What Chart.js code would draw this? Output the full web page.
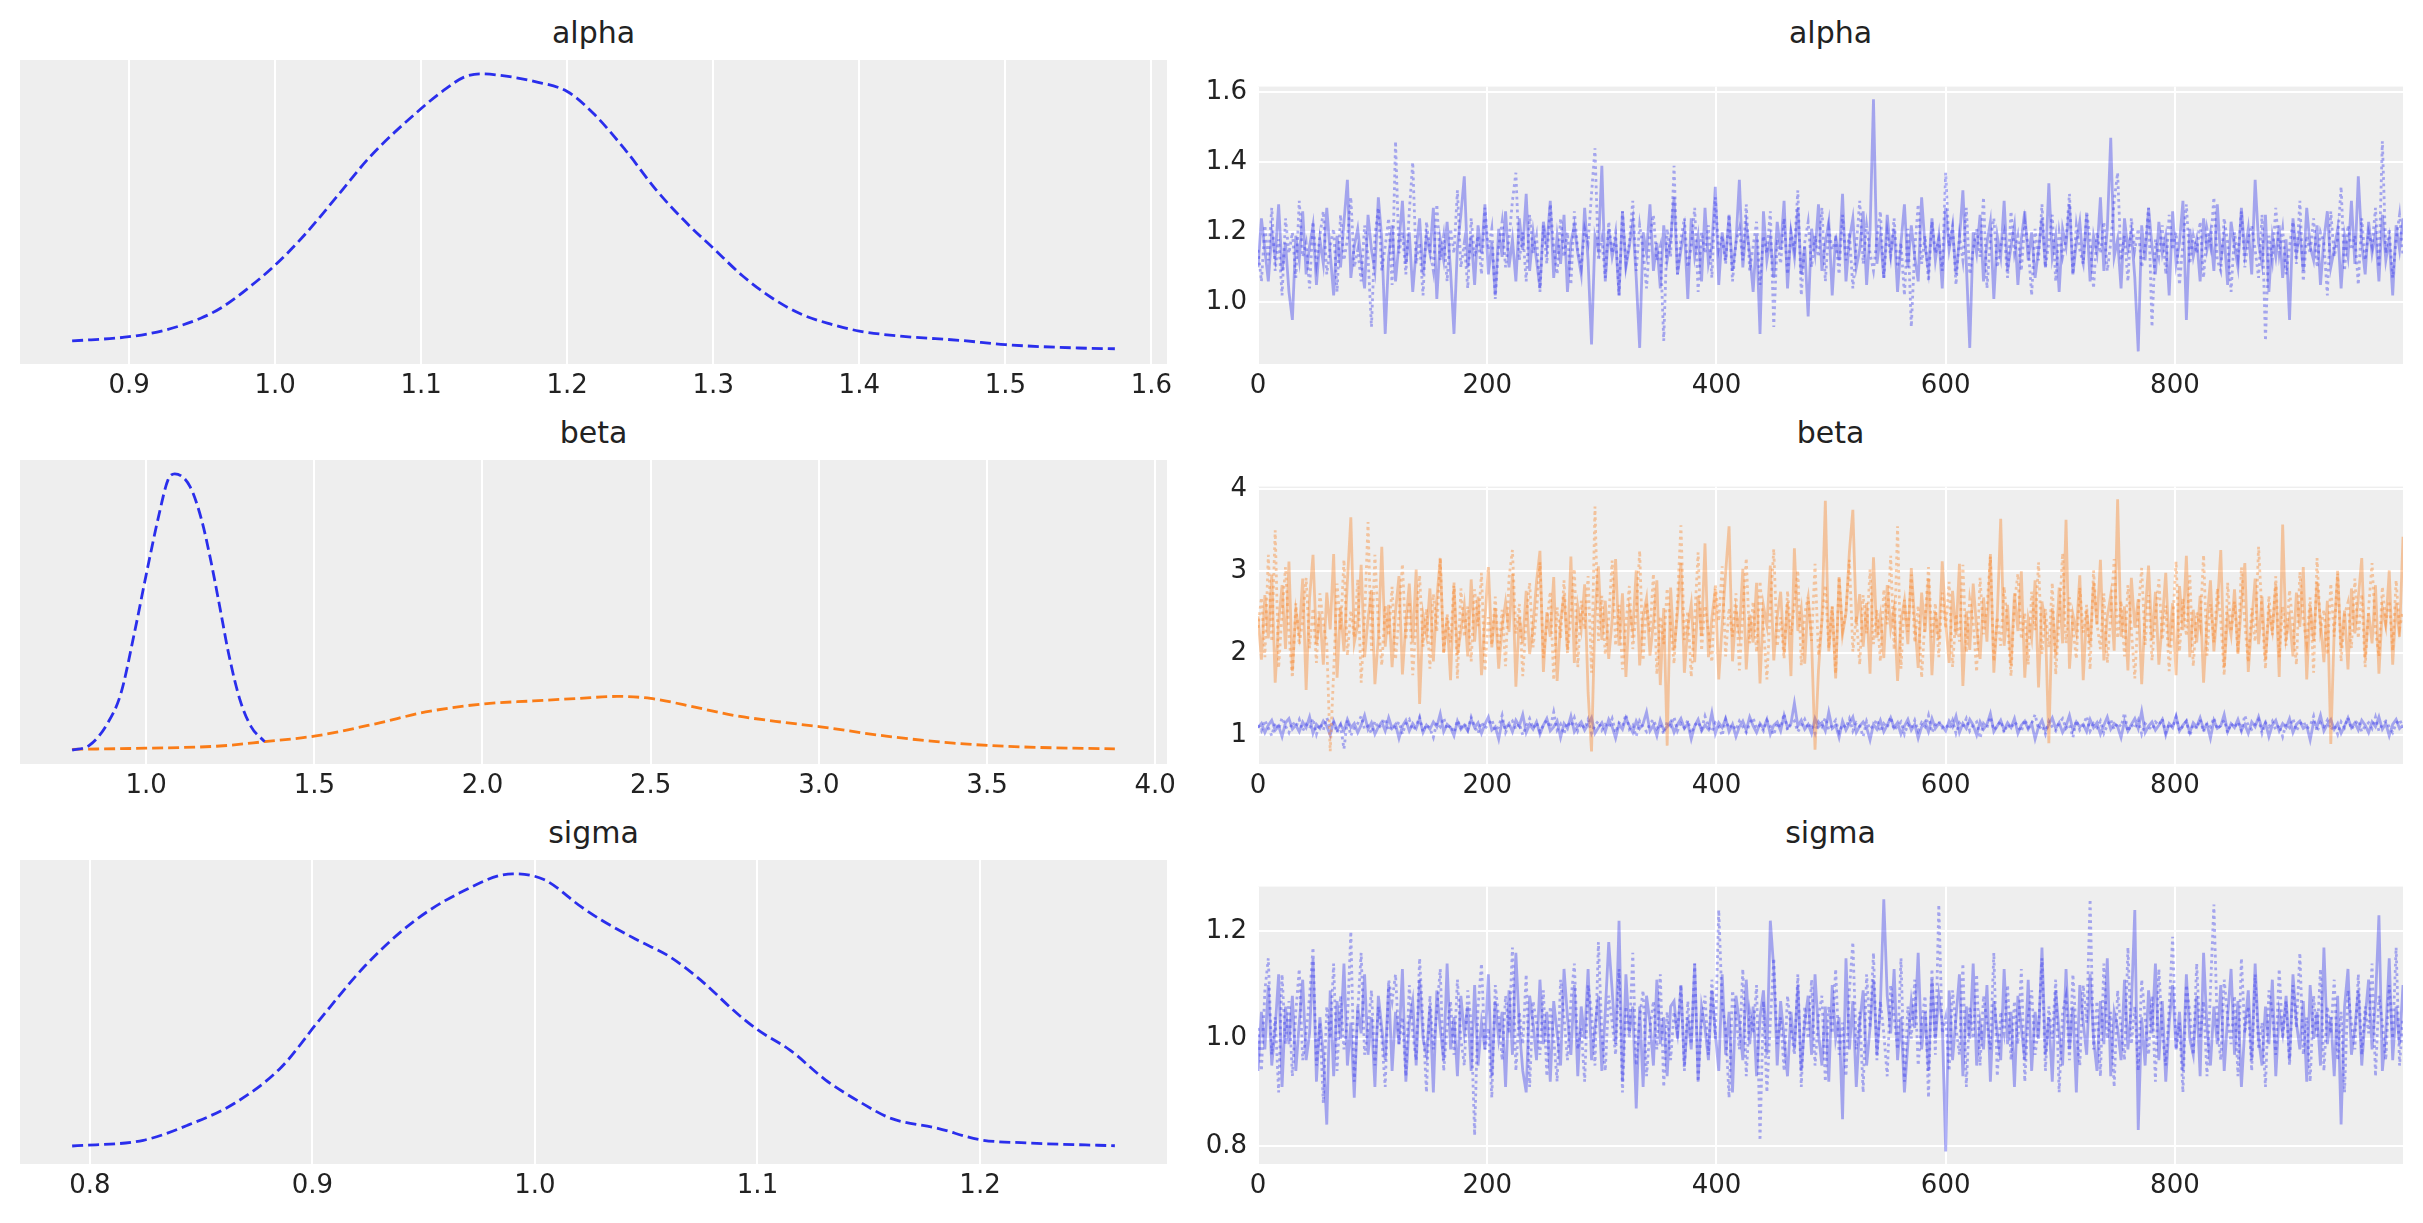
<!DOCTYPE html>
<html>
<head>
<meta charset="utf-8">
<script src="https://cdn.jsdelivr.net/npm/chart.js@4.4.1/dist/chart.umd.min.js"></script>
<style>
  body { margin: 0; background: #fff; width: 2423px; height: 1223px; position: relative; overflow: hidden; font-family: "DejaVu Sans", sans-serif; }
  .box { position: absolute; }
  .ttl { position: absolute; font-size: 30px; line-height: 30px; color: #222; text-align: center; white-space: nowrap; }
</style>
</head>
<body>
<script>
// ---- data: posterior traces (every 3rd draw), 2 chains each ----
const DRAW_STEP = 3;
const traceTicksX = [0, 200, 400, 600, 800];

const alphaChain0 = [
  1.10,1.24,1.15,1.06,1.20,1.13,1.28,1.09,1.17,1.03,0.95,1.19,1.12,1.26,1.08,1.16,1.22,1.05,1.18,1.11,
  1.27,1.14,1.02,1.19,1.10,1.23,1.35,1.07,1.16,1.21,1.12,1.04,1.25,1.15,1.09,1.30,1.18,0.91,1.13,1.22,
  1.06,1.17,1.29,1.11,1.20,1.03,1.15,1.24,1.08,1.19,1.14,1.27,1.01,1.18,1.12,1.23,1.09,0.91,1.16,1.25,
  1.36,1.10,1.19,1.05,1.22,1.14,1.28,1.08,1.17,1.02,1.21,1.13,1.26,1.10,1.18,1.06,1.24,1.15,1.31,1.09,
  1.20,1.12,1.04,1.23,1.16,1.29,1.07,1.19,1.11,1.25,1.03,1.17,1.22,1.14,1.08,1.27,1.12,0.88,1.19,1.15,
  1.39,1.06,1.21,1.13,1.18,1.02,1.26,1.10,1.16,1.23,1.07,0.87,1.20,1.14,1.28,1.09,1.17,1.04,1.22,1.12,
  1.18,1.30,1.08,1.15,1.21,1.01,1.24,1.13,1.19,1.06,1.27,1.11,1.16,1.33,1.05,1.20,1.12,1.25,1.09,1.17,
  1.35,1.10,1.22,1.14,1.03,1.19,0.91,1.26,1.12,1.18,1.07,1.23,1.15,1.29,1.04,1.20,1.13,1.27,1.08,1.16,
  0.96,1.21,1.14,1.28,1.09,1.17,1.23,1.02,1.19,1.12,1.31,1.06,1.18,1.24,1.10,1.15,1.26,1.05,1.20,1.58,
  1.11,1.19,1.07,1.25,1.14,1.21,1.03,1.17,1.28,1.10,1.22,1.13,1.06,1.30,1.16,1.09,1.24,1.12,1.19,1.04,
  1.27,1.15,1.21,1.08,1.18,1.32,1.11,0.87,1.20,1.14,1.25,1.06,1.17,1.23,1.01,1.19,1.13,1.29,1.09,1.16,
  1.22,1.05,1.18,1.26,1.12,1.20,1.07,1.15,1.24,1.10,1.34,1.13,1.19,1.03,1.21,1.16,1.28,1.08,1.17,1.23,
  1.11,1.25,1.06,1.19,1.14,1.30,1.09,1.21,1.47,1.13,1.18,1.04,1.24,1.15,1.20,1.07,0.86,1.22,1.12,1.27,
  1.16,1.08,1.23,1.14,1.19,1.02,1.26,1.11,1.17,1.29,0.95,1.21,1.13,1.18,1.06,1.24,1.15,1.20,1.09,1.28,
  1.12,1.19,1.05,1.23,1.16,1.10,1.27,1.14,1.21,1.08,1.35,1.17,1.11,1.25,1.03,1.19,1.13,1.22,1.07,1.18,
  0.95,1.24,1.14,1.20,1.09,1.27,1.16,1.12,1.22,1.05,1.18,1.26,1.10,1.15,1.21,1.04,1.19,1.13,1.29,1.11,
  1.36,1.17,1.08,1.23,1.14,1.20,1.06,1.25,1.12,1.18,1.02,1.22,1.15,1.24
];
const alphaChain1 = [
  1.15,1.06,1.22,1.12,1.27,1.09,1.18,1.02,1.24,1.14,1.20,1.07,1.29,1.13,1.17,1.04,1.23,1.11,1.19,1.26,
  1.08,1.16,1.21,1.03,1.25,1.12,1.18,1.30,1.10,1.15,1.06,1.22,1.13,0.93,1.19,1.27,1.09,1.16,1.24,1.05,
  1.46,1.14,1.20,1.08,1.26,1.40,1.11,1.17,1.02,1.23,1.15,1.09,1.28,1.12,1.19,1.06,1.21,1.14,1.32,1.10,
  1.17,1.04,1.24,1.13,1.19,1.08,1.27,1.15,1.21,1.01,1.16,1.23,1.10,1.18,1.29,1.37,1.12,1.20,1.06,1.25,
  1.14,1.19,1.03,1.22,1.11,1.28,1.16,1.08,1.24,1.13,1.20,1.05,1.26,1.15,1.10,1.21,1.17,1.31,1.44,1.12,
  1.18,1.07,1.23,1.14,1.20,1.02,1.26,1.11,1.17,1.29,1.09,1.22,1.15,1.04,1.19,1.25,1.12,1.16,0.89,1.21,
  1.13,1.39,1.08,1.18,1.24,1.10,1.16,1.27,1.03,1.20,1.14,1.22,1.07,1.30,1.15,1.19,1.11,1.25,1.06,1.17,
  1.21,1.12,1.28,1.09,1.16,1.23,1.05,1.19,1.14,1.26,0.93,1.18,1.11,1.24,1.08,1.20,1.15,1.32,1.02,1.17,
  1.23,1.10,1.19,1.13,1.27,1.06,1.21,1.15,1.18,1.08,1.25,1.12,1.20,1.04,1.16,1.29,1.11,1.22,1.14,1.09,
  1.18,1.26,1.07,1.20,1.13,1.24,1.10,1.17,1.02,1.21,0.93,1.15,1.28,1.11,1.19,1.06,1.23,1.14,1.18,1.09,
  1.37,1.16,1.22,1.05,1.19,1.12,1.27,1.08,1.15,1.21,1.13,1.30,1.04,1.18,1.24,1.10,1.16,1.20,1.07,1.26,
  1.14,1.19,1.09,1.23,1.16,1.02,1.21,1.12,1.28,1.10,1.17,1.25,1.06,1.20,1.13,1.18,1.31,1.08,1.22,1.15,
  1.11,1.26,1.18,1.04,1.20,1.14,1.23,1.09,1.17,1.29,1.37,1.12,1.19,1.06,1.24,1.15,1.21,1.10,1.16,1.27,
  0.93,1.18,1.13,1.22,1.08,1.25,1.15,1.20,1.05,1.17,1.28,1.11,1.19,1.14,1.23,1.07,1.21,1.16,1.30,1.12,
  1.09,1.24,1.17,1.03,1.20,1.13,1.26,1.10,1.18,1.22,1.15,1.07,1.25,0.89,1.19,1.12,1.27,1.14,1.21,1.08,
  1.16,1.23,1.11,1.29,1.06,1.19,1.14,1.24,1.10,1.20,1.17,1.02,1.26,1.13,1.18,1.33,1.09,1.22,1.15,1.19,
  1.05,1.24,1.12,1.20,1.16,1.27,1.10,1.46,1.14,1.21,1.07,1.18,1.25,1.13
];

const beta0Chain0 = [
  1.09,1.14,1.03,1.12,1.18,1.06,1.11,0.98,1.15,1.20,1.07,1.12,1.04,1.16,1.09,1.22,1.02,1.13,1.08,1.17,
  1.11,1.00,1.17,1.06,1.13,1.05,1.19,1.09,1.14,1.03,1.12,1.24,1.07,1.15,1.01,1.10,1.16,1.05,1.21,1.08,
  1.13,0.96,1.11,1.18,1.05,1.14,1.08,1.20,1.03,1.12,1.07,1.16,1.10,1.26,1.04,1.13,1.09,0.99,1.17,1.07,
  1.12,1.05,1.19,1.09,1.15,1.02,1.13,1.22,1.06,1.10,0.95,1.17,1.08,1.14,1.04,1.18,1.11,1.25,1.03,1.13,
  1.07,1.16,1.01,1.12,1.20,1.05,1.10,1.17,0.97,1.14,1.08,1.23,1.04,1.11,1.16,1.06,1.13,1.21,1.02,1.09,
  1.15,1.04,1.19,1.10,0.96,1.13,1.07,1.21,1.11,1.03,1.17,1.08,1.14,1.28,1.05,1.12,0.99,1.18,1.06,1.10,
  1.16,1.03,1.13,1.20,1.08,1.14,0.95,1.11,1.19,1.05,1.12,1.07,1.27,1.02,1.15,1.09,1.20,1.04,1.13,0.98,
  1.10,1.17,1.06,1.22,1.11,1.03,1.14,1.08,1.19,1.01,1.12,1.16,1.05,1.24,1.09,1.14,1.39,1.11,1.18,1.07,
  1.13,1.02,1.20,1.10,1.15,1.05,1.28,1.08,1.12,0.97,1.17,1.06,1.14,1.22,1.03,1.11,1.16,1.09,0.94,1.13,
  1.07,1.18,1.04,1.12,1.21,1.09,1.15,1.01,1.11,1.19,1.06,1.13,0.96,1.10,1.16,1.04,1.20,1.08,1.14,1.11,
  1.05,1.17,1.10,1.23,1.03,1.14,1.08,1.19,1.12,1.00,1.16,1.07,1.13,1.26,1.04,1.11,1.18,1.06,1.15,1.09,
  1.20,1.02,1.12,1.17,1.07,1.14,0.95,1.10,1.18,1.05,1.13,1.21,1.08,1.15,1.03,1.11,1.24,1.06,1.16,1.10,
  1.13,1.04,1.19,1.09,1.15,1.01,1.12,1.22,1.07,1.14,1.10,0.97,1.17,1.05,1.13,1.20,1.08,1.29,1.03,1.11,
  1.16,1.06,1.12,1.19,1.00,1.14,1.09,1.23,1.05,1.12,1.17,1.03,1.15,1.10,1.21,1.07,1.13,0.96,1.18,1.08,
  1.11,1.25,1.04,1.14,1.09,1.19,1.06,1.13,1.02,1.16,1.10,1.22,1.07,1.15,0.98,1.12,1.18,1.05,1.14,1.09,
  1.20,1.03,1.13,1.17,1.08,1.11,0.94,1.16,1.10,1.24,1.05,1.13,1.19,1.07,1.14,1.02,1.11,1.21,1.09,1.15,
  1.06,1.18,1.12,1.03,1.16,1.10,1.22,1.07,1.14,0.99,1.13,1.19,1.08,1.12
];
const beta0Chain1 = [
  1.12,1.05,1.18,1.09,0.99,1.15,1.07,1.21,1.11,1.03,1.16,1.10,1.19,1.05,1.13,1.08,1.20,1.01,1.14,1.06,
  1.21,1.10,1.15,1.03,1.12,0.83,1.18,0.99,1.09,1.14,1.23,1.07,1.11,1.02,1.17,1.08,1.13,1.20,1.05,1.12,
  1.09,1.16,1.01,1.14,1.19,1.06,1.11,1.22,1.04,1.13,1.08,0.97,1.15,1.10,1.21,1.07,1.12,1.03,1.18,1.09,
  1.14,1.06,1.22,1.11,1.02,1.16,1.08,1.13,1.19,1.05,1.10,1.24,1.03,1.12,1.17,1.07,1.14,1.00,1.11,1.20,
  1.08,1.15,1.04,1.12,1.18,1.09,1.28,1.06,1.13,1.01,1.16,1.10,1.21,1.05,1.14,1.08,1.19,1.02,1.12,1.17,
  1.06,1.13,1.09,1.20,1.03,1.15,1.11,1.25,1.07,1.12,0.98,1.17,1.10,1.04,1.14,1.19,1.08,1.13,1.01,1.16,
  1.11,1.22,1.05,1.14,1.09,1.18,1.02,1.12,1.16,1.07,1.23,1.10,1.04,1.15,1.11,0.99,1.19,1.08,1.13,1.06,
  1.17,1.10,1.03,1.14,1.21,1.08,1.12,1.05,1.18,1.11,1.00,1.15,1.09,1.26,1.06,1.13,1.17,1.04,1.11,1.19,
  1.08,1.14,1.02,1.16,1.10,1.21,1.06,1.12,1.18,1.03,1.13,1.09,1.20,1.05,1.15,1.11,0.98,1.17,1.07,1.12,
  1.19,1.04,1.14,1.09,1.22,1.06,1.11,1.16,1.01,1.13,1.08,1.18,1.05,1.15,1.10,1.24,1.03,1.12,1.17,1.09,
  1.13,1.07,1.18,1.02,1.15,1.10,1.20,1.05,1.12,1.16,0.96,1.14,1.09,1.22,1.06,1.11,1.17,1.03,1.13,1.08,
  1.16,1.11,1.04,1.19,1.09,1.14,1.25,1.07,1.12,1.01,1.17,1.10,1.05,1.15,1.20,1.08,1.13,0.97,1.18,1.06,
  1.11,1.23,1.05,1.14,1.09,1.17,1.02,1.12,1.19,1.07,1.15,1.10,1.27,1.04,1.13,1.08,1.18,1.01,1.14,1.10,
  1.06,1.16,1.12,1.20,1.03,1.14,1.09,1.22,1.05,1.11,1.17,0.99,1.13,1.08,1.19,1.04,1.15,1.10,1.21,1.07,
  1.12,1.18,1.03,1.14,1.09,1.16,1.05,1.24,1.11,1.07,1.13,1.19,1.02,1.15,1.10,1.17,1.06,1.12,0.98,1.14,
  1.09,1.20,1.05,1.13,1.17,1.08,1.11,1.23,1.04,1.15,1.10,1.18,1.06,1.12,1.01,1.16,1.09,1.21,1.07,1.13,
  1.18,1.04,1.11,1.15,1.08,1.22,1.05,1.13,1.17,1.10,1.03,1.14,1.19,1.09
];
const beta1Chain0 = [
  2.45,1.92,2.71,2.18,2.96,1.64,2.38,2.83,2.05,3.12,1.78,2.52,2.24,2.91,1.55,2.67,3.20,2.11,2.48,1.86,
  2.74,2.29,3.21,1.70,2.56,2.02,2.88,3.66,2.13,2.35,3.08,1.95,2.42,2.77,1.62,2.19,3.30,2.08,2.59,1.83,
  2.51,2.94,1.74,2.36,2.85,2.13,3.02,1.38,2.47,2.22,2.79,1.90,2.66,3.15,2.01,2.43,1.67,2.82,1.98,2.27,
  2.58,1.96,2.90,2.14,2.69,1.73,2.40,3.05,2.07,2.55,1.81,2.33,2.62,2.26,2.97,1.59,2.44,2.12,2.76,1.99,
  2.33,2.87,3.25,1.77,2.50,2.20,2.93,1.66,2.39,2.71,2.04,3.18,1.88,2.57,2.30,2.84,1.52,0.80,2.46,3.06,
  2.16,2.64,1.93,2.41,3.15,2.09,2.73,1.71,2.53,2.28,3.01,1.85,2.45,2.67,1.97,2.37,2.89,1.61,2.55,0.87,
  2.80,2.03,2.49,3.10,1.76,2.32,2.60,1.89,2.70,2.21,3.34,1.95,2.43,2.78,1.68,2.35,2.98,3.55,1.90,2.52,
  2.25,3.03,1.80,2.47,2.13,2.86,1.63,2.58,2.34,3.07,1.91,2.44,2.75,2.00,2.62,1.72,3.28,2.27,2.54,1.87,
  2.68,2.15,0.82,1.79,2.40,3.86,2.02,2.57,1.69,2.93,2.23,2.49,3.24,3.75,2.36,2.72,2.08,2.61,1.75,3.17,
  2.19,2.46,1.94,2.83,2.30,2.55,1.66,2.39,2.64,2.11,3.04,2.38,1.82,2.74,2.26,2.91,1.73,2.50,2.17,3.12,
  2.37,1.88,2.76,2.22,3.09,1.60,2.51,2.04,2.85,2.31,1.93,2.68,2.14,3.21,1.76,2.45,3.64,2.09,2.59,1.85,
  2.73,2.27,3.00,1.70,2.42,2.18,2.89,1.58,2.63,2.34,0.90,2.55,1.97,2.80,2.12,3.63,1.81,2.47,2.25,2.95,
  1.67,2.52,2.10,2.86,2.35,3.14,1.91,2.44,2.71,2.03,3.88,2.20,2.57,1.79,2.92,2.31,2.66,1.62,2.48,3.07,
  2.16,2.75,1.86,2.39,2.98,2.07,2.61,1.73,2.82,2.28,3.19,1.95,2.53,2.13,2.70,1.64,2.41,2.89,2.02,2.56,
  3.26,1.83,2.46,2.22,2.78,1.99,2.60,3.10,1.77,2.37,2.91,2.11,2.69,1.92,2.50,2.27,2.84,1.71,3.57,2.19,
  2.43,1.96,2.74,2.32,3.05,1.68,2.58,2.15,2.87,2.38,1.89,2.64,0.89,2.29,2.97,2.06,2.52,1.80,2.79,2.24,
  2.67,3.16,1.94,2.49,2.12,2.83,1.75,2.55,2.33,3.01,1.86,2.61,2.20,3.42
];
const beta1Chain1 = [
  2.31,2.68,1.95,3.20,2.14,3.50,1.82,2.49,3.05,2.23,1.70,2.61,2.10,2.40,2.92,2.06,2.55,1.88,2.73,2.36,
  2.12,0.80,1.76,2.85,2.28,3.14,1.97,2.52,2.19,2.90,1.64,2.42,3.60,2.03,3.20,2.35,1.85,2.58,2.21,2.81,
  1.92,2.45,3.09,2.16,2.63,1.73,2.39,2.95,2.08,2.54,1.81,2.72,2.26,3.17,1.99,2.48,2.13,2.87,1.69,2.79,
  2.20,2.57,1.90,2.78,2.33,2.98,1.78,2.44,2.10,2.69,2.02,2.53,1.84,2.92,3.26,2.24,2.60,1.72,2.41,2.86,
  2.07,2.50,3.11,1.94,2.37,2.75,1.67,2.56,2.18,2.89,2.00,2.46,3.03,1.83,2.64,2.29,2.94,1.76,3.79,2.15,
  2.70,1.98,2.43,3.13,2.09,2.59,1.80,2.36,2.82,2.05,2.49,3.25,1.91,2.62,2.25,2.97,1.74,2.45,2.11,2.79,
  2.34,1.87,2.66,3.56,2.16,2.51,1.71,2.42,3.23,2.03,2.58,2.27,1.89,2.84,2.39,3.06,1.96,2.55,2.20,2.73,
  1.79,2.47,3.16,2.12,2.63,2.01,2.88,2.32,1.68,2.54,3.27,2.08,2.44,1.93,2.76,2.22,2.59,3.01,1.85,2.48,
  2.69,2.15,3.09,1.97,2.40,2.83,2.06,2.57,1.75,2.93,2.28,2.50,3.14,2.02,2.45,1.86,2.71,2.24,3.02,2.11,
  2.53,1.90,2.78,2.35,3.19,2.04,3.55,1.81,2.65,2.26,2.96,2.13,2.58,1.70,2.42,3.05,2.19,2.61,1.95,2.74,
  2.30,2.87,1.83,2.48,2.14,3.08,2.01,2.66,2.39,1.77,2.92,2.23,2.56,3.18,1.90,2.44,2.09,2.81,2.34,1.72,
  2.62,2.97,2.17,2.49,1.86,2.75,2.28,3.11,1.99,2.54,2.07,2.86,1.74,2.41,3.22,2.12,2.68,2.31,1.93,2.80,
  2.25,2.59,1.80,3.01,2.36,2.05,2.73,1.88,2.47,3.15,2.18,2.64,1.96,2.83,2.29,1.69,2.52,3.04,2.10,2.71,
  1.91,2.44,2.90,2.16,2.58,1.78,2.37,3.12,2.02,2.67,2.21,2.95,1.84,2.50,2.32,3.20,1.97,2.60,2.13,2.79,
  2.40,1.73,2.86,2.26,2.63,2.00,3.05,2.35,1.89,2.55,2.14,3.30,2.46,1.81,2.70,2.22,2.94,1.95,2.57,2.09,
  2.77,2.33,1.86,2.99,2.41,2.12,2.68,1.76,3.16,2.28,2.53,1.98,2.85,2.20,3.02,1.90,2.47,2.62,2.06,2.91,
  2.18,2.72,1.83,2.55,3.10,2.27,1.96,2.81,2.38,2.64,2.03,2.89,2.30,2.52
];

const sigmaChain0 = [
  0.94,1.05,0.98,1.10,0.95,1.02,1.12,0.91,1.06,0.99,1.08,0.94,1.03,1.11,0.96,1.01,1.15,0.92,1.04,0.97,
  0.84,1.09,0.93,1.07,1.00,1.14,0.95,1.03,0.89,1.06,1.01,1.12,0.97,1.04,0.91,1.08,1.02,0.96,1.10,0.94,
  1.05,0.99,1.13,0.92,1.03,1.07,0.95,1.11,1.00,0.97,1.06,0.90,1.09,1.02,0.96,1.14,0.98,1.04,0.93,1.08,
  1.01,1.06,0.94,1.10,0.95,1.03,0.98,1.12,0.93,1.07,1.00,1.05,0.91,1.09,0.97,1.16,1.02,0.94,0.90,1.08,
  1.03,0.96,1.11,0.99,1.05,0.92,1.07,1.01,0.95,1.13,1.04,0.97,1.10,0.93,1.06,1.00,1.13,0.96,1.02,1.08,
  0.94,1.05,1.18,1.09,0.99,1.22,0.92,1.12,1.01,1.06,0.87,1.06,0.91,1.08,1.03,0.95,1.11,0.99,1.04,0.93,
  1.06,1.07,1.00,1.10,0.95,1.04,0.98,1.14,0.92,1.06,1.02,0.96,1.09,1.01,0.94,1.12,0.97,1.05,0.90,1.08,
  1.03,0.96,1.11,0.99,1.06,0.93,1.04,1.09,0.97,1.22,1.13,0.95,1.07,1.00,0.93,1.05,0.98,1.10,0.94,1.03,
  1.08,0.97,1.12,1.01,0.95,1.06,0.92,1.10,1.00,1.04,0.85,1.15,0.98,1.07,0.91,1.03,1.09,0.95,1.02,1.11,
  0.97,1.06,1.26,1.08,1.01,1.13,0.96,1.04,0.90,0.99,1.07,1.02,1.16,0.98,1.05,0.94,1.11,1.00,1.08,1.03,
  0.79,1.09,0.96,1.04,1.12,0.93,1.06,1.00,1.14,0.95,1.03,0.98,1.10,0.92,1.07,1.01,0.96,1.13,0.99,1.05,
  0.91,1.08,1.02,0.96,1.11,0.94,1.05,1.00,1.17,0.97,1.04,0.92,1.09,1.01,0.95,1.13,0.98,1.06,0.90,1.10,
  1.03,0.97,1.12,1.00,0.94,1.07,0.99,1.15,0.93,1.05,1.02,0.96,1.11,0.98,1.06,1.24,0.83,1.04,0.95,1.09,
  1.01,1.14,0.96,1.07,0.92,1.03,1.10,0.98,1.05,0.94,1.12,1.00,0.97,1.08,0.93,1.16,1.02,0.95,1.06,0.99,
  1.10,0.94,1.04,1.13,0.97,1.07,0.91,1.02,1.09,0.96,1.14,1.00,0.95,1.06,0.99,1.11,0.93,1.05,1.01,1.08,
  0.96,1.12,1.03,0.98,1.07,0.92,1.10,1.00,1.05,0.95,1.17,0.99,1.04,0.93,1.08,0.84,1.06,1.13,0.97,1.02,
  1.09,0.95,1.04,1.11,0.98,1.07,1.23,0.94,1.01,1.15,0.96,1.06,0.99,1.10
];
const sigmaChain1 = [
  1.02,0.94,1.09,1.15,0.97,1.04,0.90,1.12,0.99,1.07,0.93,1.05,1.13,0.96,1.01,1.08,1.17,0.95,1.03,0.88,
  1.06,1.00,1.14,0.94,1.08,0.98,1.03,1.20,0.92,1.05,1.16,0.97,1.02,1.09,0.95,1.06,1.00,0.91,1.11,1.07,
  1.12,0.99,1.04,0.93,1.10,1.01,0.96,1.15,1.03,0.90,1.08,0.98,1.05,1.13,0.94,1.02,1.07,0.97,1.11,1.00,
  0.95,1.09,1.03,0.82,1.06,1.14,0.98,1.02,0.89,1.10,1.04,0.96,1.08,1.01,1.17,0.94,1.05,0.99,1.12,0.91,
  1.07,1.03,0.97,1.09,0.93,1.06,1.00,0.92,1.11,1.04,0.96,1.07,1.14,0.98,1.02,0.92,1.10,1.05,0.95,1.18,
  1.01,0.94,1.08,1.03,0.97,1.13,0.90,1.06,1.00,1.16,0.95,1.04,1.09,0.93,1.02,1.07,0.98,1.12,0.91,1.05,
  0.96,1.05,1.01,1.10,0.94,1.07,0.99,1.14,0.92,1.03,1.08,0.97,1.11,1.00,1.24,1.06,1.02,0.89,1.09,1.04,
  0.98,1.13,0.93,1.05,1.01,1.10,0.81,1.07,0.90,1.03,1.15,0.99,1.04,0.94,1.08,1.02,0.97,1.12,0.91,1.06,
  1.00,1.11,0.95,1.04,1.08,0.92,1.06,1.01,1.13,0.97,1.03,0.93,1.09,1.18,0.98,1.05,0.90,1.12,1.02,1.16,
  0.96,1.07,1.01,0.93,1.10,1.04,0.98,1.15,0.92,1.06,1.00,1.11,0.95,1.03,1.08,0.89,1.13,0.97,1.25,1.01,
  1.04,0.94,1.09,1.02,0.97,1.14,0.91,1.06,1.00,1.12,0.95,1.08,1.03,0.98,1.16,0.93,1.05,1.01,1.10,0.96,
  1.07,0.99,1.13,0.92,1.04,1.09,0.97,1.02,1.15,0.94,1.06,1.00,1.11,0.90,1.05,1.08,0.96,1.12,1.01,0.95,
  1.10,1.03,1.26,0.98,1.07,0.93,1.14,1.00,1.05,0.91,1.09,1.02,0.96,1.17,0.99,1.06,0.94,1.11,1.04,0.97,
  1.08,0.92,1.13,1.01,0.95,1.06,1.19,0.98,1.03,0.90,1.10,1.05,0.97,1.14,1.00,1.07,0.93,1.09,1.25,1.02,
  0.96,1.11,1.04,0.99,1.08,0.93,1.15,1.01,1.06,0.94,1.12,0.98,1.03,0.91,1.09,1.05,0.97,1.13,1.00,1.07,
  0.95,1.10,1.02,1.16,0.97,1.04,0.92,1.08,1.00,1.13,0.94,1.06,1.01,1.11,0.96,1.05,0.90,1.09,1.03,0.98,
  1.12,0.97,1.06,1.01,1.14,0.93,1.08,1.03,0.96,1.10,1.00,1.17,0.95,1.04
];

// ---- data: kernel density estimates (x, density) ----
const alphaKdeX = [0.861,0.90,0.924,0.949,0.964,0.983,1.00,1.019,1.044,1.065,1.10,1.117,1.129,1.141,1.157,1.178,1.20,1.218,1.240,1.261,1.282,1.30,1.32,1.34,1.36,1.38,1.40,1.43,1.47,1.50,1.55,1.575];
const alphaKdeY = [0.13,0.19,0.28,0.45,0.61,0.90,1.20,1.60,2.21,2.73,3.41,3.69,3.85,3.90,3.87,3.79,3.65,3.34,2.82,2.26,1.79,1.44,1.05,0.74,0.51,0.37,0.27,0.195,0.137,0.078,0.031,0.02];

const beta0KdeX = [0.78,0.832,0.885,0.925,0.965,1.005,1.039,1.065,1.085,1.131,1.165,1.192,1.219,1.245,1.279,1.312,1.352];
const beta0KdeY = [0.0,0.10,0.53,1.13,2.33,3.65,4.71,5.38,5.50,5.24,4.58,3.78,2.85,1.93,1.00,0.47,0.17];
const beta1KdeX = [0.78,1.00,1.219,1.352,1.50,1.685,1.831,2.00,2.151,2.285,2.40,2.50,2.642,2.75,2.90,3.00,3.20,3.40,3.60,3.88];
const beta1KdeY = [0.017,0.039,0.083,0.17,0.28,0.53,0.76,0.92,0.98,1.03,1.07,1.03,0.84,0.69,0.55,0.47,0.28,0.14,0.066,0.027];

const sigmaKdeX = [0.792,0.824,0.844,0.865,0.886,0.903,0.924,0.945,0.966,0.99,1.004,1.021,1.030,1.046,1.0606,1.0745,1.0906,1.10,1.1146,1.1305,1.1466,1.160,1.181,1.20,1.2206,1.2606];
const sigmaKdeY = [0.08,0.19,0.48,0.90,1.59,2.49,3.55,4.37,4.93,5.30,5.19,4.66,4.41,4.03,3.71,3.26,2.63,2.31,1.92,1.35,0.91,0.61,0.42,0.20,0.14,0.085];

// axis ticks
const alphaKdeTicks = [0.9,1.0,1.1,1.2,1.3,1.4,1.5,1.6];
const betaKdeTicks = [1.0,1.5,2.0,2.5,3.0,3.5,4.0];
const sigmaKdeTicks = [0.8,0.9,1.0,1.1,1.2];
const alphaTraceTicksY = [1.0,1.2,1.4,1.6];
const betaTraceTicksY = [1,2,3,4];
const sigmaTraceTicksY = [0.8,1.0,1.2];

// ---- styling ----
const BLUE = '#2a2eec';
const ORANGE = '#fa7c17';
const BLUE_T = 'rgba(42,46,236,0.38)';
const ORANGE_T = 'rgba(250,124,23,0.38)';
const TEXT = '#222222';
const AXIS_H = 50;
const YAXIS_W = 80;
const LEFT_X = 20, LEFT_W = 1147;
const RIGHT_X = 1258, RIGHT_W = 1145;
const ROW_TOP = [60, 460, 860];
const PLOT_H = 304;

Chart.defaults.font.family = '"DejaVu Sans", sans-serif';
Chart.defaults.color = TEXT;

const bgPlugin = {
  id: 'bg',
  beforeDraw(chart) {
    const a = chart.chartArea, ctx = chart.ctx;
    ctx.save();
    ctx.fillStyle = '#eeeeee';
    ctx.fillRect(a.left, a.top, a.right - a.left, a.bottom - a.top);
    ctx.restore();
  }
};

function pts(xs, ys) { return xs.map((x, i) => ({x: x, y: ys[i]})); }
function draws(vals) { return vals.map((v, i) => ({x: i * DRAW_STEP, y: v})); }
function pad(lo, hi) { const m = (hi - lo) * 0.05; return [lo - m, hi + m]; }

function xScale(min, max, ticks, fmt) {
  return {
    type: 'linear', min: min, max: max,
    afterBuildTicks: s => { s.ticks = ticks.map(v => ({value: v})); },
    afterFit: s => { s.height = AXIS_H; s.paddingLeft = 0; s.paddingRight = 0; },
    grid: {color: '#ffffff', lineWidth: 2, drawTicks: false},
    border: {display: false},
    ticks: {font: {size: 26}, color: TEXT, padding: 7, maxRotation: 0, minRotation: 0, autoSkip: false, callback: fmt}
  };
}
function yScale(min, max, ticks, fmt) {
  return {
    type: 'linear', min: min, max: max,
    afterBuildTicks: s => { s.ticks = ticks.map(v => ({value: v})); },
    afterFit: s => { s.width = YAXIS_W; },
    grid: {color: '#ffffff', lineWidth: 2, drawTicks: false},
    border: {display: false},
    ticks: {font: {size: 26}, color: TEXT, padding: 11, autoSkip: false, callback: fmt}
  };
}
const f1 = v => Number(v).toFixed(1);
const f0 = v => String(Math.round(v));

function addTitle(text, cx, top) {
  const d = document.createElement('div');
  d.className = 'ttl';
  d.textContent = text;
  d.style.left = (cx - 200) + 'px';
  d.style.width = '400px';
  d.style.top = top + 'px';
  document.body.appendChild(d);
}

function makeChart(left, top, w, h, datasets, scales, padRight) {
  const box = document.createElement('div');
  box.className = 'box';
  box.style.left = left + 'px';
  box.style.top = top + 'px';
  const cv = document.createElement('canvas');
  cv.width = w; cv.height = h;
  cv.style.width = w + 'px'; cv.style.height = h + 'px';
  box.appendChild(cv);
  document.body.appendChild(box);
  new Chart(cv, {
    type: 'line',
    data: {datasets: datasets},
    options: {
      responsive: false, animation: false,
      layout: {padding: {left: 0, right: padRight, top: 0, bottom: 0}},
      plugins: {legend: {display: false}, tooltip: {enabled: false}, title: {display: false}},
      elements: {point: {radius: 0}, line: {borderCapStyle: 'butt'}},
      scales: scales
    },
    plugins: [bgPlugin]
  });
}

function kdeSet(xs, ys, color) {
  return {data: pts(xs, ys), borderColor: color, borderWidth: 2.8, borderDash: [11, 5],
          cubicInterpolationMode: 'monotone', fill: false, pointRadius: 0};
}
function traceSet(vals, color, dotted) {
  return {data: draws(vals), borderColor: color, borderWidth: 2.8, borderDash: dotted ? [2.8, 3.6] : [],
          tension: 0, fill: false, pointRadius: 0};
}

function kdeY(...arrs) {
  const m = Math.max(...arrs.map(a => Math.max(...a)));
  return {display: false, min: -0.05 * m, max: 1.05 * m};
}
function dataRange(...arrs) {
  return pad(Math.min(...arrs.map(a => Math.min(...a))), Math.max(...arrs.map(a => Math.max(...a))));
}

const rows = [
  {name: 'alpha',
   kde: [kdeSet(alphaKdeX, alphaKdeY, BLUE)], kx: dataRange(alphaKdeX), ky: kdeY(alphaKdeY), kt: alphaKdeTicks,
   tr: [traceSet(alphaChain1, BLUE_T, true), traceSet(alphaChain0, BLUE_T, false)],
   ty: dataRange(alphaChain0, alphaChain1), tt: alphaTraceTicksY, tf: f1},
  {name: 'beta',
   kde: [kdeSet(beta0KdeX, beta0KdeY, BLUE), kdeSet(beta1KdeX, beta1KdeY, ORANGE)],
   kx: dataRange(beta0KdeX, beta1KdeX), ky: kdeY(beta0KdeY, beta1KdeY), kt: betaKdeTicks,
   tr: [traceSet(beta1Chain1, ORANGE_T, true), traceSet(beta1Chain0, ORANGE_T, false),
        traceSet(beta0Chain1, BLUE_T, true), traceSet(beta0Chain0, BLUE_T, false)],
   ty: dataRange(beta0Chain0, beta0Chain1, beta1Chain0, beta1Chain1), tt: betaTraceTicksY, tf: f0},
  {name: 'sigma',
   kde: [kdeSet(sigmaKdeX, sigmaKdeY, BLUE)], kx: dataRange(sigmaKdeX), ky: kdeY(sigmaKdeY), kt: sigmaKdeTicks,
   tr: [traceSet(sigmaChain1, BLUE_T, true), traceSet(sigmaChain0, BLUE_T, false)],
   ty: dataRange(sigmaChain0, sigmaChain1), tt: sigmaTraceTicksY, tf: f1}
];

rows.forEach((r, i) => {
  const top = ROW_TOP[i];
  addTitle(r.name, LEFT_X + LEFT_W / 2, top - 42);
  addTitle(r.name, RIGHT_X + RIGHT_W / 2, top - 42);
  makeChart(LEFT_X, top, LEFT_W + 40, PLOT_H + AXIS_H, r.kde,
    {x: xScale(r.kx[0], r.kx[1], r.kt, f1), y: r.ky}, 40);
  makeChart(RIGHT_X - YAXIS_W, top, RIGHT_W + YAXIS_W, PLOT_H + AXIS_H, r.tr,
    {x: xScale(0, 999, traceTicksX, f0), y: yScale(r.ty[0], r.ty[1], r.tt, r.tf)}, 0);
});
</script>
</body>
</html>
